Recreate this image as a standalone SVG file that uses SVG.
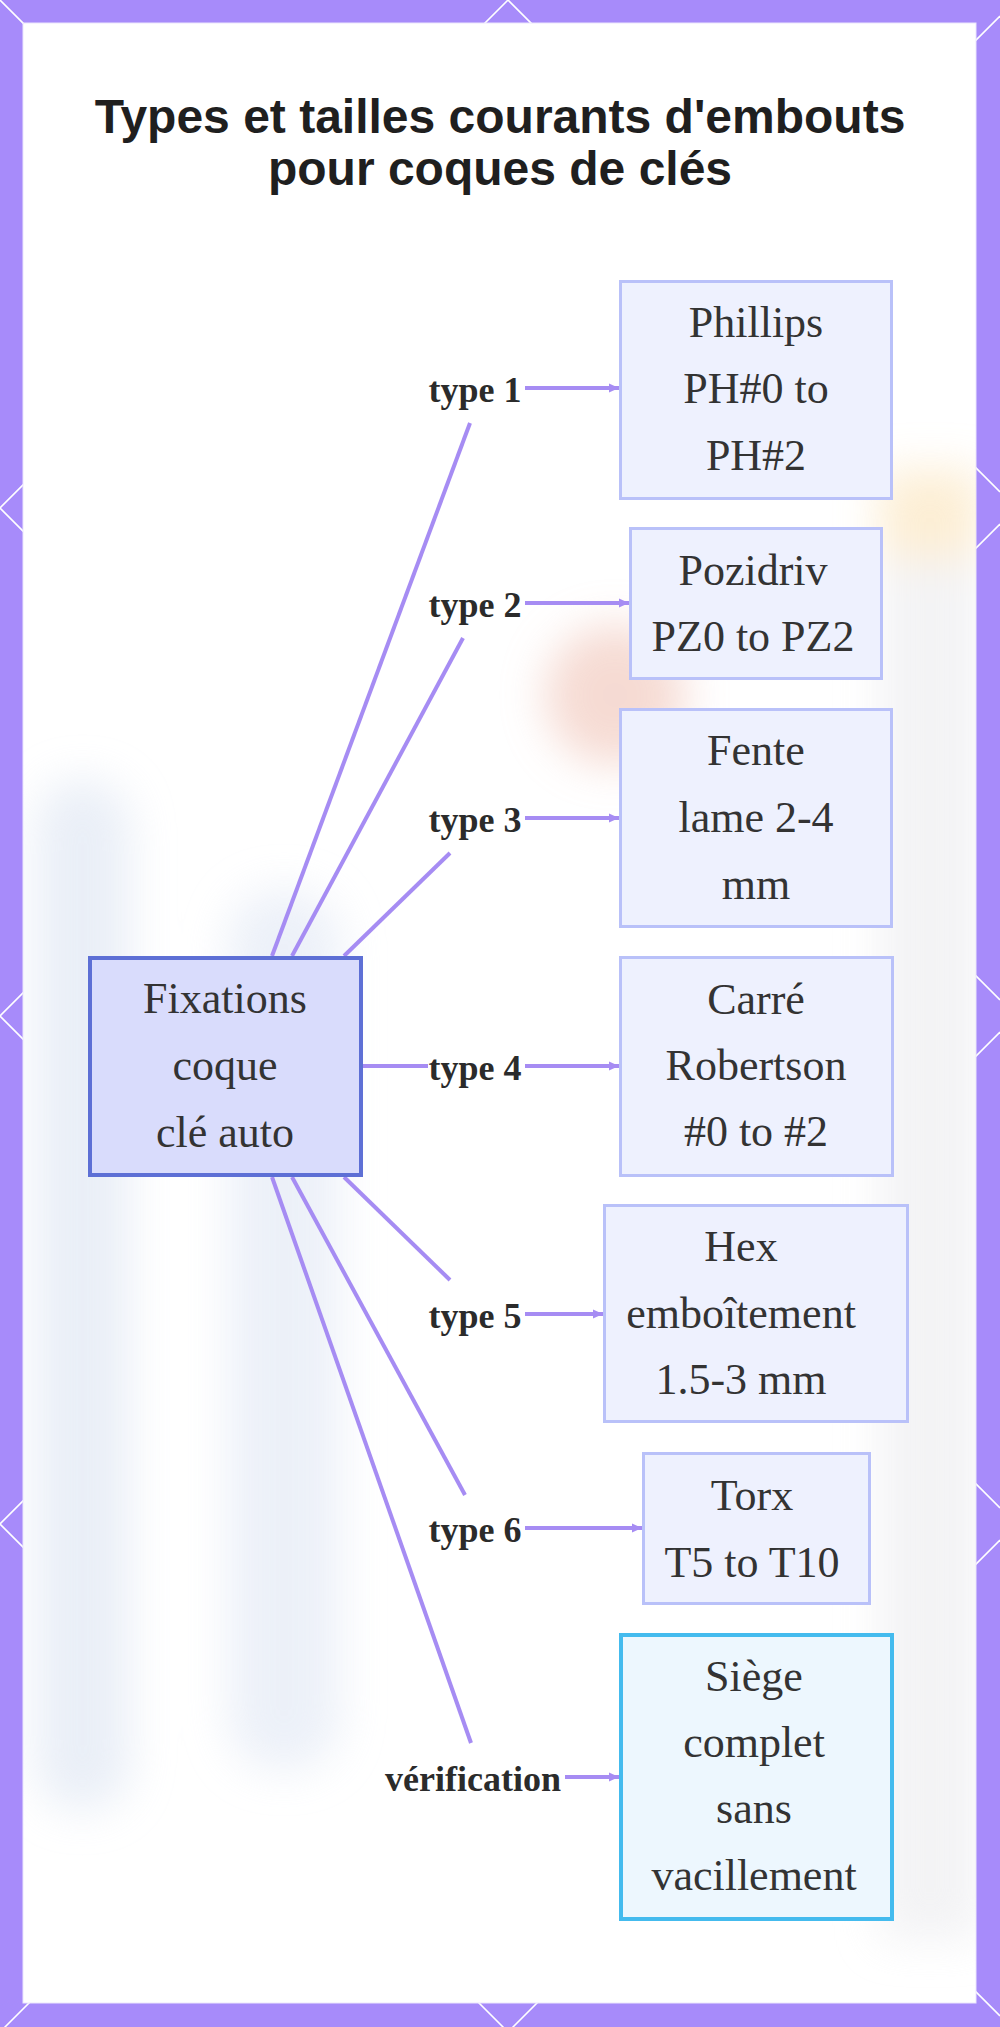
<svg xmlns="http://www.w3.org/2000/svg" width="1000" height="2027" viewBox="0 0 1000 2027">
  <defs>
    <style>
      .lat { stroke: #ffffff; stroke-width: 1.6; fill: none; }
      .box { fill: #eef1fe; stroke: #b9c1f9; stroke-width: 3; }
      .main { fill: #d9dcfc; stroke: #5d6fd5; stroke-width: 4; }
      .check { fill: #edf7fe; stroke: #44bbee; stroke-width: 4; }
      .nt { font-family: "Liberation Serif", "Times New Roman", serif; font-size: 44px; fill: #333333; text-anchor: middle; }
      .lbl { font-family: "Liberation Serif", "Times New Roman", serif; font-size: 36px; font-weight: bold; fill: #2b2b2b; text-anchor: middle; }
      .title { font-family: "Liberation Sans", Arial, sans-serif; font-size: 48px; font-weight: bold; fill: #1f1f1f; text-anchor: middle; }
      .edge { stroke: #a68cf3; stroke-width: 4; fill: none; }
      .arr { stroke: #a68cf3; stroke-width: 4; fill: none; marker-end: url(#ah); }
    </style>
    <marker id="ah" markerUnits="userSpaceOnUse" markerWidth="10" markerHeight="10" refX="10" refY="5" orient="auto">
      <path d="M0,0.5 L10,5 L0,9.5 z" fill="#a68cf3"/>
    </marker>
    <filter id="blur" x="-50%" y="-50%" width="200%" height="200%">
      <feGaussianBlur stdDeviation="22"/>
    </filter>
    <clipPath id="panelClip">
      <rect x="23" y="23" width="953" height="1980"/>
    </clipPath>
  </defs>

  <!-- border background -->
  <rect x="0" y="0" width="1000" height="2027" fill="#a78bfa"/>
  <g class="lat">
    <line x1="0" y1="-1016" x2="1000" y2="-16"/>
    <line x1="0" y1="-508" x2="1000" y2="492"/>
    <line x1="0" y1="0" x2="1000" y2="1000"/>
    <line x1="0" y1="508" x2="1000" y2="1508"/>
    <line x1="0" y1="1016" x2="1000" y2="2016"/>
    <line x1="0" y1="1524" x2="1000" y2="2524"/>
    <line x1="0" y1="2032" x2="1000" y2="3032"/>
    <line x1="0" y1="508" x2="1000" y2="-492"/>
    <line x1="0" y1="1016" x2="1000" y2="16"/>
    <line x1="0" y1="1524" x2="1000" y2="524"/>
    <line x1="0" y1="2032" x2="1000" y2="1032"/>
    <line x1="0" y1="2540" x2="1000" y2="1540"/>
    <line x1="0" y1="3048" x2="1000" y2="2048"/>
  </g>

  <!-- white panel -->
  <rect x="23" y="23" width="953" height="1980" fill="#ffffff" stroke="#ece6fd" stroke-width="1"/>

  <!-- faint blurred backdrop -->
  <g clip-path="url(#panelClip)" filter="url(#blur)" opacity="0.6">
    <rect x="35" y="780" width="95" height="1030" rx="45" fill="#dce4f2"/>
    <rect x="228" y="890" width="112" height="880" rx="50" fill="#e0e7f4"/>
    <circle cx="615" cy="695" r="70" fill="#f0c3b6"/>
    <rect x="880" y="470" width="100" height="140" fill="#fbe3b8"/>
    <rect x="900" y="1100" width="80" height="200" fill="#fbe6bd"/>
    <rect x="880" y="560" width="100" height="1380" fill="#ebebee"/>
  </g>

  <!-- title -->
  <g id="title">
    <text class="title" x="500" y="133">Types et tailles courants d'embouts</text>
    <text class="title" x="500" y="185">pour coques de clés</text>
  </g>

  <!-- connectors -->
  <g id="connectors">
    <line class="edge" x1="272" y1="956" x2="470" y2="423"/>
    <line class="edge" x1="292" y1="956" x2="463" y2="638"/>
    <line class="edge" x1="344" y1="956" x2="450" y2="853"/>
    <line class="edge" x1="363" y1="1066" x2="428" y2="1066"/>
    <line class="edge" x1="344" y1="1177" x2="450" y2="1280"/>
    <line class="edge" x1="292" y1="1177" x2="465" y2="1495"/>
    <line class="edge" x1="272" y1="1177" x2="471" y2="1743"/>

    <line class="arr" x1="525" y1="388" x2="619" y2="388"/>
    <line class="arr" x1="525" y1="603" x2="629" y2="603"/>
    <line class="arr" x1="525" y1="818" x2="619" y2="818"/>
    <line class="arr" x1="525" y1="1066" x2="619" y2="1066"/>
    <line class="arr" x1="525" y1="1314" x2="603" y2="1314"/>
    <line class="arr" x1="525" y1="1528" x2="642" y2="1528"/>
    <line class="arr" x1="565" y1="1777" x2="619" y2="1777"/>

    <text class="lbl" x="475" y="402">type 1</text>
    <text class="lbl" x="475" y="617">type 2</text>
    <text class="lbl" x="475" y="832">type 3</text>
    <text class="lbl" x="475" y="1080">type 4</text>
    <text class="lbl" x="475" y="1328">type 5</text>
    <text class="lbl" x="475" y="1542">type 6</text>
    <text class="lbl" x="473" y="1791">vérification</text>
  </g>

  <!-- nodes -->
  <g id="node-center">
    <rect class="main" x="90" y="958" width="271" height="217"/>
    <text class="nt" x="225" y="1013">Fixations</text>
    <text class="nt" x="225" y="1080">coque</text>
    <text class="nt" x="225" y="1147">clé auto</text>
  </g>

  <g id="node-phillips">
    <rect class="box" x="620.5" y="281.5" width="271" height="217"/>
    <text class="nt" x="756" y="337">Phillips</text>
    <text class="nt" x="756" y="403">PH#0 to</text>
    <text class="nt" x="756" y="470">PH#2</text>
  </g>

  <g id="node-pozidriv">
    <rect class="box" x="630.5" y="528.5" width="251" height="150"/>
    <text class="nt" x="753" y="585">Pozidriv</text>
    <text class="nt" x="753" y="651">PZ0 to PZ2</text>
  </g>

  <g id="node-fente">
    <rect class="box" x="620.5" y="709.5" width="271" height="217"/>
    <text class="nt" x="756" y="765">Fente</text>
    <text class="nt" x="756" y="832">lame 2-4</text>
    <text class="nt" x="756" y="899">mm</text>
  </g>

  <g id="node-carre">
    <rect class="box" x="620.5" y="957.5" width="272" height="218"/>
    <text class="nt" x="756" y="1014">Carré</text>
    <text class="nt" x="756" y="1080">Robertson</text>
    <text class="nt" x="756" y="1146">#0 to #2</text>
  </g>

  <g id="node-hex">
    <rect class="box" x="604.5" y="1205.5" width="303" height="216"/>
    <text class="nt" x="741" y="1261">Hex</text>
    <text class="nt" x="741" y="1328">emboîtement</text>
    <text class="nt" x="741" y="1394">1.5-3 mm</text>
  </g>

  <g id="node-torx">
    <rect class="box" x="643.5" y="1453.5" width="226" height="150"/>
    <text class="nt" x="752" y="1510">Torx</text>
    <text class="nt" x="752" y="1577">T5 to T10</text>
  </g>

  <g id="node-siege">
    <rect class="check" x="621" y="1635" width="271" height="284"/>
    <text class="nt" x="754" y="1691">Siège</text>
    <text class="nt" x="754" y="1757">complet</text>
    <text class="nt" x="754" y="1823">sans</text>
    <text class="nt" x="754" y="1890">vacillement</text>
  </g>
</svg>
